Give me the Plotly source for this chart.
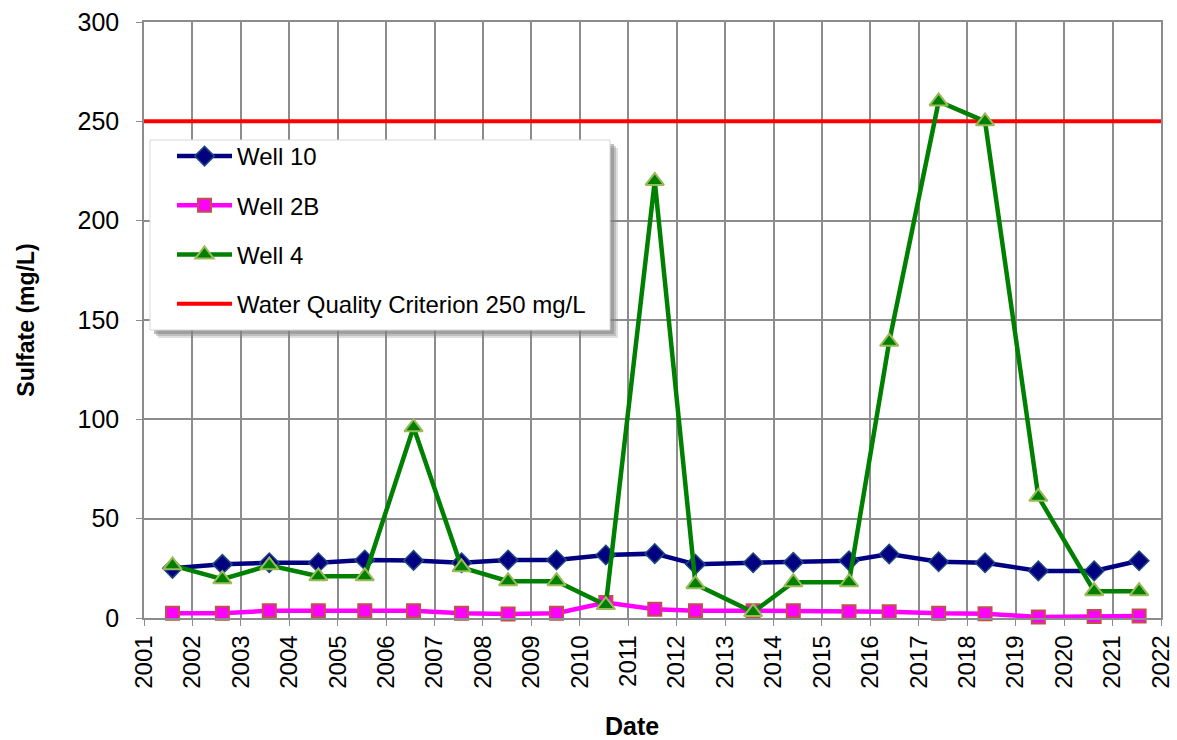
import plotly.graph_objects as go

dates = ["2001-08-04", "2002-08-15", "2003-08-04", "2004-08-08", "2005-07-24",
         "2006-07-27", "2007-07-24", "2008-07-09", "2009-07-09", "2010-07-16",
         "2011-07-20", "2012-05-22", "2013-07-31", "2014-05-30", "2015-07-24",
         "2016-05-22", "2017-05-30", "2018-05-15", "2019-06-21", "2020-08-15",
         "2021-07-20"]
well10 = [25, 27, 27.8, 27.8, 29.2, 29, 27.8, 29.2, 29.2, 31.7, 32.4,
          27, 27.8, 28, 28.8, 32.2, 28.3, 27.8, 23.7, 23.7, 28.8]
well2b = [2.4, 2.4, 3.7, 3.7, 3.7, 3.7, 2.4, 2.0, 2.4, 7.8, 4.4,
          3.7, 3.7, 3.7, 3.2, 3.2, 2.4, 2.2, 0.5, 0.7, 1.0]
well4 = [26.5, 19.5, 26.5, 21, 21, 96, 25.5, 18.5, 18.5, 6.5, 220,
         17, 3, 18, 18, 139, 260, 250, 61, 13.5, 13.5]
criterion_dates = ["2001-01-01", "2022-01-01"]
criterion = [250, 250]

FONT = "Arial, Liberation Sans, sans-serif"

fig = go.Figure()
fig.add_trace(go.Scatter(
    x=criterion_dates, y=criterion, mode="lines", name="Water Quality Criterion 250 mg/L",
    line=dict(color="#FF0000", width=4), legendrank=4, legendgroup="d", cliponaxis=False))
fig.add_trace(go.Scatter(
    x=dates, y=well10, mode="lines+markers", name="Well 10",
    line=dict(color="#000080", width=4.5),
    marker=dict(symbol="diamond", size=15, color="#000080", line=dict(color="#1F497D", width=1.5)),
    legendrank=1, legendgroup="a", cliponaxis=False))
fig.add_trace(go.Scatter(
    x=dates, y=well2b, mode="lines+markers", name="Well 2B",
    line=dict(color="#FF00FF", width=4.5),
    marker=dict(symbol="square", size=13, color="#FF00FF", line=dict(color="#C0504D", width=2)),
    legendrank=2, legendgroup="b", cliponaxis=False))
fig.add_trace(go.Scatter(
    x=dates, y=well4, mode="lines+markers", name="Well 4",
    line=dict(color="#008000", width=4.5),
    marker=dict(symbol="triangle-up", size=16, color="#008000", line=dict(color="#9BBB59", width=2)),
    legendrank=3, legendgroup="c", cliponaxis=False))

# page pixel geometry of the plot area (body margin removed via post_script)
L, R, T, B = 144, 1161, 22, 618
W, H = 1177, 740
pw, ph = R - L, B - T

def px(x):
    return (x - L) / pw

def py(y):
    return (B - y) / ph

shapes = []
# legend shadow
for off, op in [(8, 0.25), (6, 0.35), (4, 0.5)]:
    shapes.append(dict(type="rect", xref="paper", yref="paper",
                       x0=px(150 + off), x1=px(610 + off), y0=py(330 + off), y1=py(140 + off),
                       fillcolor="#808080", opacity=op, line=dict(width=0), layer="above"))
shapes.append(dict(type="rect", xref="paper", yref="paper",
                   x0=px(150), x1=px(610), y0=py(330), y1=py(140),
                   fillcolor="white", line=dict(color="#D9D9D9", width=1), layer="above"))

fig.update_layout(
    width=W, height=H,
    margin=dict(l=L, r=W - R, t=T, b=H - B),
    paper_bgcolor="white", plot_bgcolor="white",
    font=dict(family=FONT, color="black"),
    showlegend=True,
    shapes=shapes,
    annotations=[dict(text="<b>Date</b>", xref="paper", yref="paper",
                      x=px(632), y=py(726), xanchor="center", yanchor="middle",
                      showarrow=False, font=dict(family=FONT, size=25, color="black"))],
    legend=dict(
        x=px(172), y=py(134), xanchor="left", yanchor="top",
        bgcolor="rgba(0,0,0,0)", borderwidth=0,
        font=dict(family=FONT, size=24, color="black"),
        traceorder="grouped", tracegroupgap=15,
        itemwidth=55,
    ),
    xaxis=dict(
        type="date", range=["2001-01-01", "2022-01-01"], automargin=False,
        tick0="2001-01-01", dtick="M12", tickformat="%Y", tickangle=-90,
        ticklabeloverflow="allow",
        showgrid=True, gridcolor="#8C8C8C", gridwidth=1.5,
        showline=True, linecolor="#8C8C8C", linewidth=1.5, mirror=True,
        ticks="outside", ticklen=6, tickcolor="#8C8C8C",
        tickfont=dict(family=FONT, size=24, color="black"),
        zeroline=False,
    ),
    yaxis=dict(
        range=[0, 300], dtick=50, automargin=False,
        ticklabeloverflow="allow",
        showgrid=True, gridcolor="#8C8C8C", gridwidth=1.5,
        showline=True, linecolor="#8C8C8C", linewidth=1.5, mirror=True,
        ticks="outside", ticklen=6, tickcolor="#8C8C8C",
        tickfont=dict(family=FONT, size=25, color="black"),
        ticklabelstandoff=12,
        title=dict(text="<b>Sulfate (mg/L)</b>", font=dict(family=FONT, size=23, color="black"), standoff=36),
        zeroline=False,
    ),
)

fig.write_html("out.html", config={"displayModeBar": False},
               post_script="document.body.style.margin='0';")
